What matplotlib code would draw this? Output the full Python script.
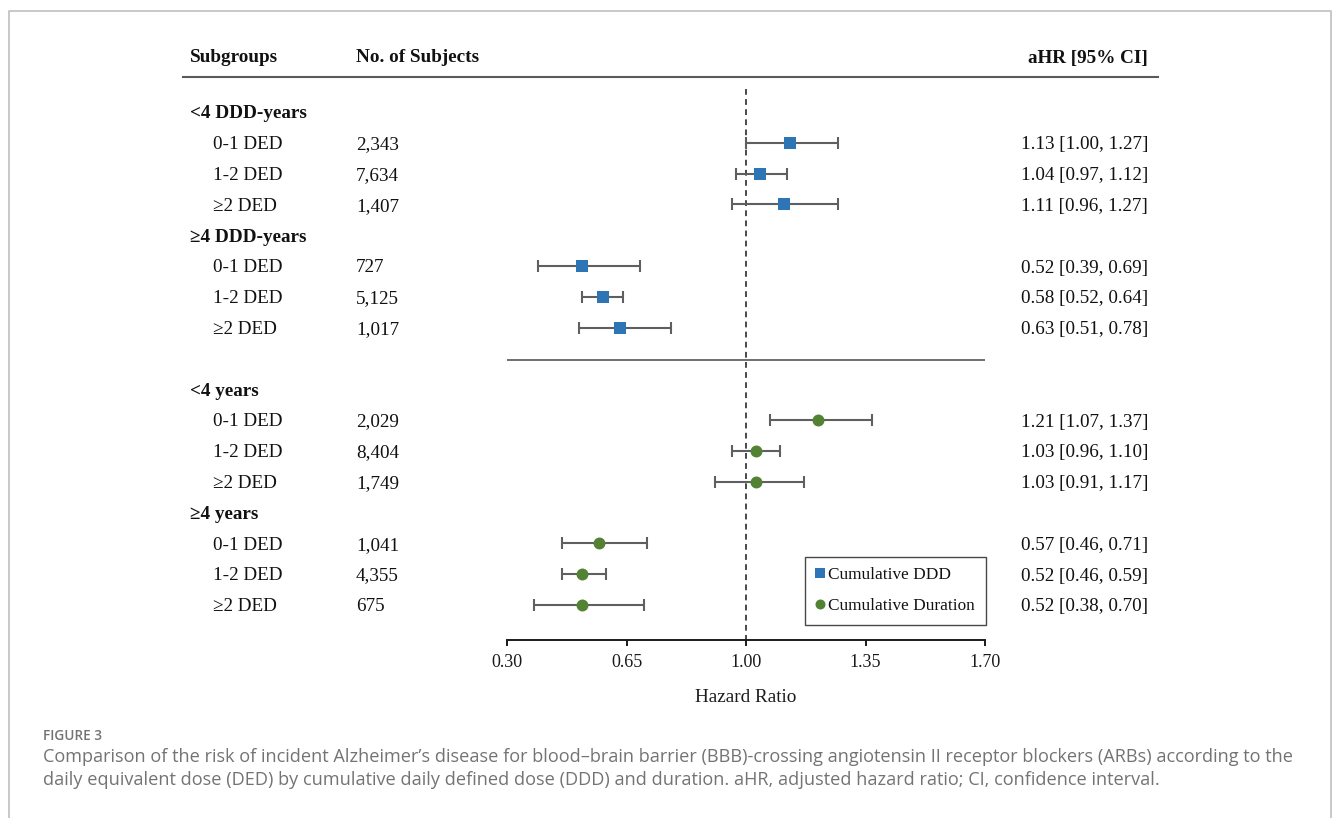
import matplotlib
matplotlib.use("Agg")
import matplotlib.pyplot as plt
from matplotlib.lines import Line2D
import matplotlib.transforms as mtransforms

# ---------------- data ----------------
levels = ["0-1 DED", "1-2 DED", "\u22652 DED"]
groups_ddd = ["<4 DDD-years", "\u22654 DDD-years"]
groups_dur = ["<4 years", "\u22654 years"]

n_ddd = ["2,343", "7,634", "1,407", "727", "5,125", "1,017"]
hr_ddd = [1.13, 1.04, 1.11, 0.52, 0.58, 0.63]
lo_ddd = [1.00, 0.97, 0.96, 0.39, 0.52, 0.51]
hi_ddd = [1.27, 1.12, 1.27, 0.69, 0.64, 0.78]

n_dur = ["2,029", "8,404", "1,749", "1,041", "4,355", "675"]
hr_dur = [1.21, 1.03, 1.03, 0.57, 0.52, 0.52]
lo_dur = [1.07, 0.96, 0.91, 0.46, 0.46, 0.38]
hi_dur = [1.37, 1.10, 1.17, 0.71, 0.59, 0.70]

xticks = [0.30, 0.65, 1.00, 1.35, 1.70]
series_names = ["Cumulative DDD", "Cumulative Duration"]

# ---------------- layout helpers ----------------
W, H = 1333, 818
SERIF = ["Liberation Serif", "DejaVu Serif"]
plt.rcParams["font.family"] = SERIF

fig = plt.figure(figsize=(W / 100, H / 100), dpi=100)
fig.patch.set_facecolor("white")

def fx(px):
    return px / W

def fy(py):
    return 1 - py / H

ROW0, ROWH = 112.0, 30.8
def row_of_px(py):
    return (py - ROW0) / ROWH

BASE = 6.5 / ROWH  # baseline offset below row centre

ax_top_px, ax_bot_px = 77, 640
ax = fig.add_axes([fx(507), fy(ax_bot_px), fx(985) - fx(507), (ax_bot_px - ax_top_px) / H])
ax.set_xlim(0.30, 1.70)
ax.set_ylim(row_of_px(ax_bot_px), row_of_px(ax_top_px))
ax.patch.set_alpha(0)

for s in ["left", "top", "right"]:
    ax.spines[s].set_visible(False)
ax.spines["bottom"].set_linewidth(1.4)
ax.spines["bottom"].set_color("#1a1a1a")
ax.set_yticks([])
ax.set_xticks(xticks)
ax.set_xticklabels([f"{t:.2f}" for t in xticks])
ax.tick_params(axis="x", direction="out", length=4.5, width=1.4, color="#1a1a1a",
               labelsize=13.0, pad=5.5, labelcolor="#1a1a1a")
ax.set_xlabel("Hazard Ratio", fontsize=13.8, labelpad=13, color="#1a1a1a")

# rows
rows_ddd = [g * 4 + 1 + l for g in range(2) for l in range(3)]
rows_dur = [9 + g * 4 + 1 + l for g in range(2) for l in range(3)]
head_ddd = [0, 4]
head_dur = [9, 13]

blue = "#2E75B6"
green = "#548235"
ecol = "#5f5f5f"

# reference line at 1.00
ax.plot([1.0, 1.0], [row_of_px(89), row_of_px(ax_bot_px)], color="#3a3a3a", lw=1.3,
        dashes=(3.2, 2.4), zorder=1)
# separator line
ax.plot([0.30, 1.70], [row_of_px(360), row_of_px(360)], color="#6f6f6f", lw=1.4, zorder=1)

for hr, lo, hi, rows, col, mk, ms in [
    (hr_ddd, lo_ddd, hi_ddd, rows_ddd, blue, "s", 8.0),
    (hr_dur, lo_dur, hi_dur, rows_dur, green, "o", 8.6),
]:
    xerr = [[h - l for h, l in zip(hr, lo)], [u - h for h, u in zip(hr, hi)]]
    ax.errorbar(hr, rows, xerr=xerr, fmt="none", ecolor=ecol, elinewidth=1.5,
                capsize=4.2, capthick=1.5, zorder=2)
    ax.plot(hr, rows, linestyle="none", marker=mk, markersize=ms, color=col,
            markeredgewidth=0, zorder=3)

# text columns
tr = mtransforms.blended_transform_factory(fig.transFigure, ax.transData)
FS = 13.8
tcol = "#111111"

def put_row_texts(groups, heads, rows, ns, hr, lo, hi):
    for g, r in zip(groups, heads):
        ax.text(fx(190), r + BASE, g, transform=tr, fontsize=FS, fontweight="bold",
                va="baseline", ha="left", color=tcol, clip_on=False)
    for i, r in enumerate(rows):
        ax.text(fx(213), r + BASE, levels[i % 3], transform=tr, fontsize=FS,
                va="baseline", ha="left", color=tcol, clip_on=False)
        ax.text(fx(356), r + BASE, ns[i], transform=tr, fontsize=FS,
                va="baseline", ha="left", color=tcol, clip_on=False)
        ax.text(fx(1148), r + BASE, f"{hr[i]:.2f} [{lo[i]:.2f}, {hi[i]:.2f}]", transform=tr,
                fontsize=FS, va="baseline", ha="right", color=tcol, clip_on=False)

put_row_texts(groups_ddd, head_ddd, rows_ddd, n_ddd, hr_ddd, lo_ddd, hi_ddd)
put_row_texts(groups_dur, head_dur, rows_dur, n_dur, hr_dur, lo_dur, hi_dur)

# headers
HB = fy(62.5)
fig.text(fx(190), HB, "Subgroups", fontsize=FS, fontweight="bold", va="baseline",
         ha="left", color=tcol)
fig.text(fx(356), HB, "No. of Subjects", fontsize=FS, fontweight="bold", va="baseline",
         ha="left", color=tcol)
fig.text(fx(1148), HB, "aHR [95% CI]", fontsize=FS, fontweight="bold", va="baseline",
         ha="right", color=tcol)
fig.add_artist(Line2D([fx(183), fx(1158)], [fy(77), fy(77)], transform=fig.transFigure,
                      color="#5a5a5a", lw=1.5))

# legend
handles = [
    Line2D([], [], linestyle="none", marker="s", markersize=6.5, color=blue, markeredgewidth=0),
    Line2D([], [], linestyle="none", marker="o", markersize=7.2, color=green, markeredgewidth=0),
]
leg = fig.legend(handles, series_names, loc="lower right",
                 bbox_to_anchor=(fx(985.5), fy(624.5)), bbox_transform=fig.transFigure,
                 prop={"family": SERIF, "size": 12.4}, frameon=True, fancybox=False,
                 edgecolor="#1a1a1a", handlelength=0.5, handletextpad=0.25,
                 borderpad=0.6, labelspacing=0.85, borderaxespad=0)
leg.get_frame().set_linewidth(1.0)
for t in leg.get_texts():
    t.set_color(tcol)

# outer frame
fig.add_artist(Line2D([fx(9), fx(9), fx(1331), fx(1331)], [0, fy(11), fy(11), 0],
                      transform=fig.transFigure, color="#c4c4c4", lw=1.3))

# caption
CAP = ["Open Sans", "DejaVu Sans"]
capcol = "#737373"
fig.text(fx(43), fy(736), "FIGURE 3", family=CAP, fontsize=9.8, fontweight="semibold",
         color=capcol, va="center", ha="left")
fig.text(fx(43), fy(757),
         "Comparison of the risk of incident Alzheimer\u2019s disease for blood\u2013brain barrier (BBB)-crossing "
         "angiotensin II receptor blockers (ARBs) according to the",
         family=CAP, fontsize=13.05, color=capcol, va="center", ha="left")
fig.text(fx(43), fy(780),
         "daily equivalent dose (DED) by cumulative daily defined dose (DDD) and duration. aHR, "
         "adjusted hazard ratio; CI, confidence interval.",
         family=CAP, fontsize=13.05, color=capcol, va="center", ha="left")

fig.savefig("out.png", dpi=100, facecolor="white")
